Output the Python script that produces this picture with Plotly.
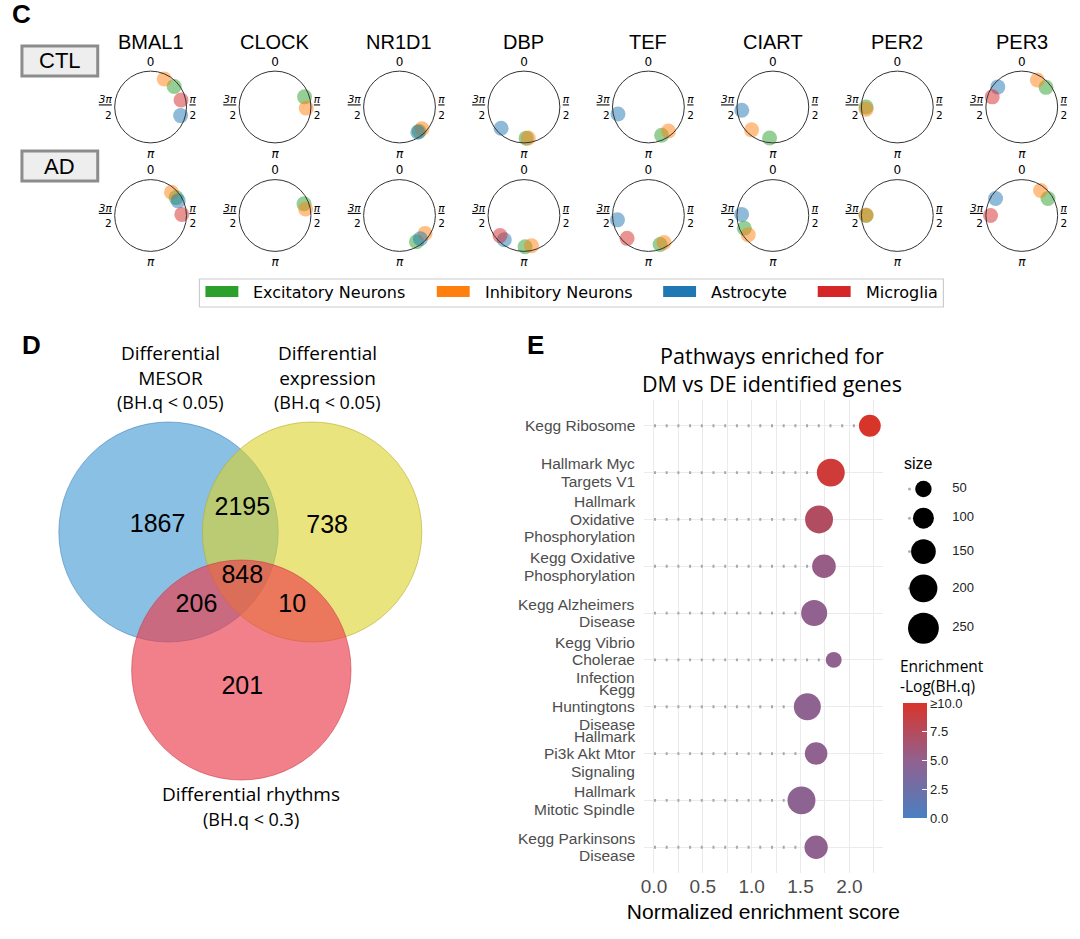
import plotly.graph_objects as go

W, H = 1080, 939

# ---------------- Panel C data ----------------
genes = ["BMAL1", "CLOCK", "NR1D1", "DBP", "TEF", "CIART", "PER2", "PER3"]
conditions = ["CTL", "AD"]
cell_types = ["Excitatory Neurons", "Inhibitory Neurons", "Astrocyte", "Microglia"]
cell_colors = ["#2ca02c", "#ff7f0e", "#1f77b4", "#d62728"]

# peak phase in degrees (0 = top, clockwise; 90 = pi/2); None = not shown
ctl_exc = [49, 71, 141, 176, 155, 186, 270, 51]
ctl_inh = [26, 92, 134, 172, 140, 223, 266, 30]
ctl_ast = [106, None, 144, 227, 257, 264, None, 310]
ctl_mic = [77, None, None, None, None, None, None, 289]
ad_exc = [55, 68, 147, 178, 158, 246, 270, 57]
ad_inh = [42, 78, 125, 166, 150, 232, 271, 37]
ad_ast = [62, None, 138, 219, 262, 272, None, 303]
ad_mic = [88, None, None, 230, 223, None, None, 270]
phases = {"CTL": [ctl_exc, ctl_inh, ctl_ast, ctl_mic],
          "AD": [ad_exc, ad_inh, ad_ast, ad_mic]}

# ---------------- Panel D data ----------------
venn_sets = ["Differential<br>MESOR", "Differential<br>expression", "Differential rhythms"]
venn_thresholds = ["(BH.q < 0.05)", "(BH.q < 0.05)", "(BH.q < 0.3)"]
venn_regions = ["M", "M&E", "E", "M&E&R", "M&R", "E&R", "R"]
venn_counts = [1867, 2195, 738, 848, 206, 10, 201]

# ---------------- Panel E data ----------------
pathways = ["Kegg Ribosome", "Hallmark Myc<br>Targets V1", "Hallmark<br>Oxidative<br>Phosphorylation",
            "Kegg Oxidative<br>Phosphorylation", "Kegg Alzheimers<br>Disease",
            "Kegg Vibrio<br>Cholerae<br>Infection", "Kegg<br>Huntingtons<br>Disease",
            "Hallmark<br>Pi3k Akt Mtor<br>Signaling", "Hallmark<br>Mitotic Spindle",
            "Kegg Parkinsons<br>Disease"]
nes = [2.21, 1.81, 1.69, 1.74, 1.64, 1.84, 1.57, 1.66, 1.51, 1.66]
set_size = [110, 200, 200, 135, 170, 45, 185, 120, 200, 130]
neglog_q = [12.0, 9.3, 7.3, 5.4, 5.0, 4.9, 4.8, 4.9, 4.7, 4.9]
size_breaks = [50, 100, 150, 200, 250]
cbar_ticks = [0, 2.5, 5, 7.5, 10]
cbar_text = ["0.0", "2.5", "5.0", "7.5", "≥10.0"]


def px(x):
    return x / W


def py(y):
    return 1 - y / H


def diam(s):
    return (100 + 3.4 * s) ** 0.5


def note(x, y, text, size, family="Liberation Sans", color="black", xanchor="center",
         yanchor="middle", xref="paper", yref="paper", **kw):
    d = dict(x=x, y=y, xref=xref, yref=yref, text=text, showarrow=False,
             xanchor=xanchor, yanchor=yanchor,
             font=dict(family=family, size=size, color=color))
    d.update(kw)
    return d


fig = go.Figure()
layout = dict(width=W, height=H, margin=dict(l=0, r=0, t=0, b=0),
              paper_bgcolor="white", plot_bgcolor="white", showlegend=False)
annotations = []
shapes = []

# ---------------- Panel C: polar plots ----------------
R = 36
col_x0, col_step = 148, 124.8
row_y = [107, 215.5]
frac = "<span style='font-size:10.5px'><u><i>{}</i></u><br>2</span>"
ticktext = ["0", frac.format("π"), "<i>π</i>", frac.format("3π")]
k = 0
for ri, cond in enumerate(conditions):
    for gi, g in enumerate(genes):
        k += 1
        name = "polar" if k == 1 else f"polar{k}"
        cx = col_x0 + gi * col_step
        cy = row_y[ri]
        layout[name] = dict(
            domain=dict(x=[px(cx - R), px(cx + R)], y=[py(cy + R), py(cy - R)]),
            bgcolor="white",
            radialaxis=dict(visible=False, range=[0, 1]),
            angularaxis=dict(rotation=90, direction="clockwise", tickmode="array",
                             tickvals=[0, 90, 180, 270], ticktext=ticktext,
                             showgrid=False, showline=True, linecolor="#333333",
                             linewidth=1, ticks="",
                             tickfont=dict(family="DejaVu Sans", size=12, color="black")),
        )
        for ci, ct in enumerate(cell_types):
            ang = phases[cond][ci][gi]
            if ang is None:
                continue
            fig.add_trace(go.Scatterpolar(
                r=[0.87], theta=[ang], mode="markers", subplot=name,
                cliponaxis=False,
                marker=dict(size=15, color=cell_colors[ci], opacity=0.5, line=dict(width=0)),
                name=ct, hoverinfo="name"))

for gi, g in enumerate(genes):
    annotations.append(note(px(col_x0 + gi * col_step), py(42), g, 20))

# condition boxes
for lab, (y0, y1) in zip(conditions, [(46, 76), (151, 181)]):
    shapes.append(dict(type="rect", xref="paper", yref="paper", x0=px(19), x1=px(95),
                       y0=py(y1), y1=py(y0), fillcolor="#eeeeee",
                       line=dict(color="#8c8c8c", width=3)))
    annotations.append(note(px(57), py((y0 + y1) / 2), lab, 22))

# legend for panel C
shapes.append(dict(type="rect", xref="paper", yref="paper", x0=px(197), x1=px(943),
                   y0=py(307), y1=py(279), fillcolor="white",
                   line=dict(color="#cccccc", width=1.2)))
leg_x = [203, 435, 662, 817]
for ct, col, lx in zip(cell_types, cell_colors, leg_x):
    shapes.append(dict(type="rect", xref="paper", yref="paper", x0=px(lx), x1=px(lx + 33),
                       y0=py(297), y1=py(286), fillcolor=col, line=dict(width=0)))
    annotations.append(note(px(lx + 46), py(292.5), ct, 16, family="DejaVu Sans",
                            xanchor="left"))

# panel letters
for lab, (x, y) in zip(["C", "D", "E"], [(7, 14), (17, 345), (523, 345)]):
    annotations.append(note(px(x), py(y), f"<b>{lab}</b>", 26, xanchor="left"))

# ---------------- Panel D: Venn ----------------
layout["xaxis2"] = dict(domain=[0, px(480)], range=[0, 480], visible=False, anchor="y2")
layout["yaxis2"] = dict(domain=[py(860), py(320)], range=[860, 320], visible=False, anchor="x2")
circ = [((166, 532), "rgba(60,150,210,0.6)", "rgba(60,130,190,0.7)"),
        ((310, 532), "rgba(220,210,40,0.6)", "rgba(180,170,40,0.7)"),
        ((239, 670), "rgba(235,60,75,0.65)", "rgba(200,60,70,0.7)")]
CR = 110
for (cx, cy), fc, lc in circ:
    shapes.append(dict(type="circle", xref="x2", yref="y2", x0=cx - CR, x1=cx + CR,
                       y0=cy - CR, y1=cy + CR, fillcolor=fc, line=dict(color=lc, width=0.8),
                       layer="below"))
region_pos = {"M": (155, 526), "M&E": (240, 509), "E": (325, 527), "M&E&R": (240, 577),
              "M&R": (194, 606), "E&R": (290, 606), "R": (240, 688)}
fig.add_trace(go.Scatter(
    x=[region_pos[r][0] for r in venn_regions], y=[region_pos[r][1] for r in venn_regions],
    mode="text", text=[str(c) for c in venn_counts], xaxis="x2", yaxis="y2",
    textfont=dict(family="Liberation Sans", size=25, color="black"), hoverinfo="skip"))
set_label_pos = [(168, 365), (325, 365), (249, 794)]
for i, (nm, th) in enumerate(zip(venn_sets, venn_thresholds)):
    x, y = set_label_pos[i]
    annotations.append(note(x, y, nm, 19, family="Open Sans", xref="x2", yref="y2"))
    annotations.append(note(x, (y + 37) if i < 2 else (y + 25), th, 18, family="Open Sans",
                            xref="x2", yref="y2"))

# ---------------- Panel E: dot plot ----------------
layout["xaxis3"] = dict(domain=[px(643), px(882)], range=[-0.1, 2.34], anchor="y3",
                        tickvals=[0, 0.5, 1, 1.5, 2], tickformat=".1f",
                        showgrid=True, gridcolor="#ebebeb", gridwidth=1, zeroline=False,
                        minor=dict(tickvals=[0.25, 0.75, 1.25, 1.75, 2.25], showgrid=True,
                                   gridcolor="#ebebeb", gridwidth=1),
                        tickfont=dict(family="Liberation Sans", size=19, color="#4d4d4d"),
                        title=dict(text="Normalized enrichment score", standoff=8,
                                   font=dict(family="Liberation Sans", size=21, color="black")),
                        showline=False, ticks="")
layout["yaxis3"] = dict(domain=[py(873), py(400)], anchor="x3", type="category",
                        categoryorder="array", categoryarray=pathways,
                        range=[len(pathways) - 0.45, -0.55],
                        showgrid=True, gridcolor="#ebebeb", gridwidth=1, ticks="",
                        showticklabels=False)

# y labels with tight line spacing
LS = 17.5
for p in pathways:
    lines = p.split("<br>")
    n = len(lines)
    for j, ln in enumerate(lines):
        annotations.append(note(px(636), p, ln, 15.5, color="#4d4d4d", xanchor="right",
                                yref="y3", yshift=-(j - (n - 1) / 2) * LS))

# dotted stems
sx, sy = [], []
for p, v in zip(pathways, nes):
    sx += [0, v, None]
    sy += [p, p, None]
fig.add_trace(go.Scatter(x=sx, y=sy, mode="lines", xaxis="x3", yaxis="y3",
                         line=dict(color="#a8a8a8", width=2.8, dash="2px,9.7px"),
                         hoverinfo="skip"))
colorscale = [[0, "#4a7fc1"], [0.5, "#91618f"], [1, "#d8352a"]]
fig.add_trace(go.Scatter(
    x=nes, y=pathways, mode="markers", xaxis="x3", yaxis="y3",
    marker=dict(size=[diam(s) for s in set_size], color=neglog_q, cmin=0, cmax=10,
                colorscale=colorscale, opacity=1, line=dict(width=0),
                colorbar=dict(x=px(903), xanchor="left", y=py(703), yanchor="top",
                              len=(818 - 703) / H, lenmode="fraction", thickness=24,
                              xpad=0, ypad=0,
                              outlinewidth=0, tickvals=cbar_ticks, ticktext=cbar_text,
                              ticks="inside", ticklen=5, tickcolor="white",
                              tickfont=dict(family="Liberation Sans", size=13, color="#222"))),
    hovertemplate="%{y}<br>NES=%{x}<extra></extra>"))
annotations.append(note(px(897), py(676), "Enrichment<br>-Log(BH.q)", 15.5,
                        family="Open Sans", xanchor="left", align="left"))

# title E
annotations.append(note(px(771), py(369), "Pathways enriched for<br>DM vs DE identified genes",
                        21.5, family="Open Sans"))

# size legend
layout["xaxis4"] = dict(domain=[px(895), px(1000)], range=[895, 1000], visible=False,
                        anchor="y4")
layout["yaxis4"] = dict(domain=[py(650), py(450)], range=[650, 450], visible=False,
                        anchor="x4")
ds = [diam(s) for s in size_breaks]
ys = [489]
for i in range(1, len(ds)):
    ys.append(ys[-1] + (ds[i - 1] + ds[i]) / 2 + 10.5)
fig.add_trace(go.Scatter(x=[909] * len(ys), y=ys, mode="markers", xaxis="x4", yaxis="y4",
                         marker=dict(size=3, color="#b0b0b0"), hoverinfo="skip"))
fig.add_trace(go.Scatter(x=[923] * len(ys), y=ys, mode="markers", xaxis="x4", yaxis="y4",
                         marker=dict(size=ds, color="black", opacity=1, line=dict(width=0)),
                         cliponaxis=False, hoverinfo="skip"))
fig.add_trace(go.Scatter(x=[952] * len(ys), y=ys, mode="text", xaxis="x4", yaxis="y4",
                         text=[str(s) for s in size_breaks], textposition="middle right",
                         textfont=dict(family="Liberation Sans", size=13, color="#222"),
                         cliponaxis=False, hoverinfo="skip"))
annotations.append(note(px(902), py(463), "size", 16, xanchor="left"))

layout["annotations"] = annotations
layout["shapes"] = shapes
fig.update_layout(**layout)
fig.write_html("out.html", config={"displayModeBar": False},
               post_script="document.body.style.margin='0px';")
